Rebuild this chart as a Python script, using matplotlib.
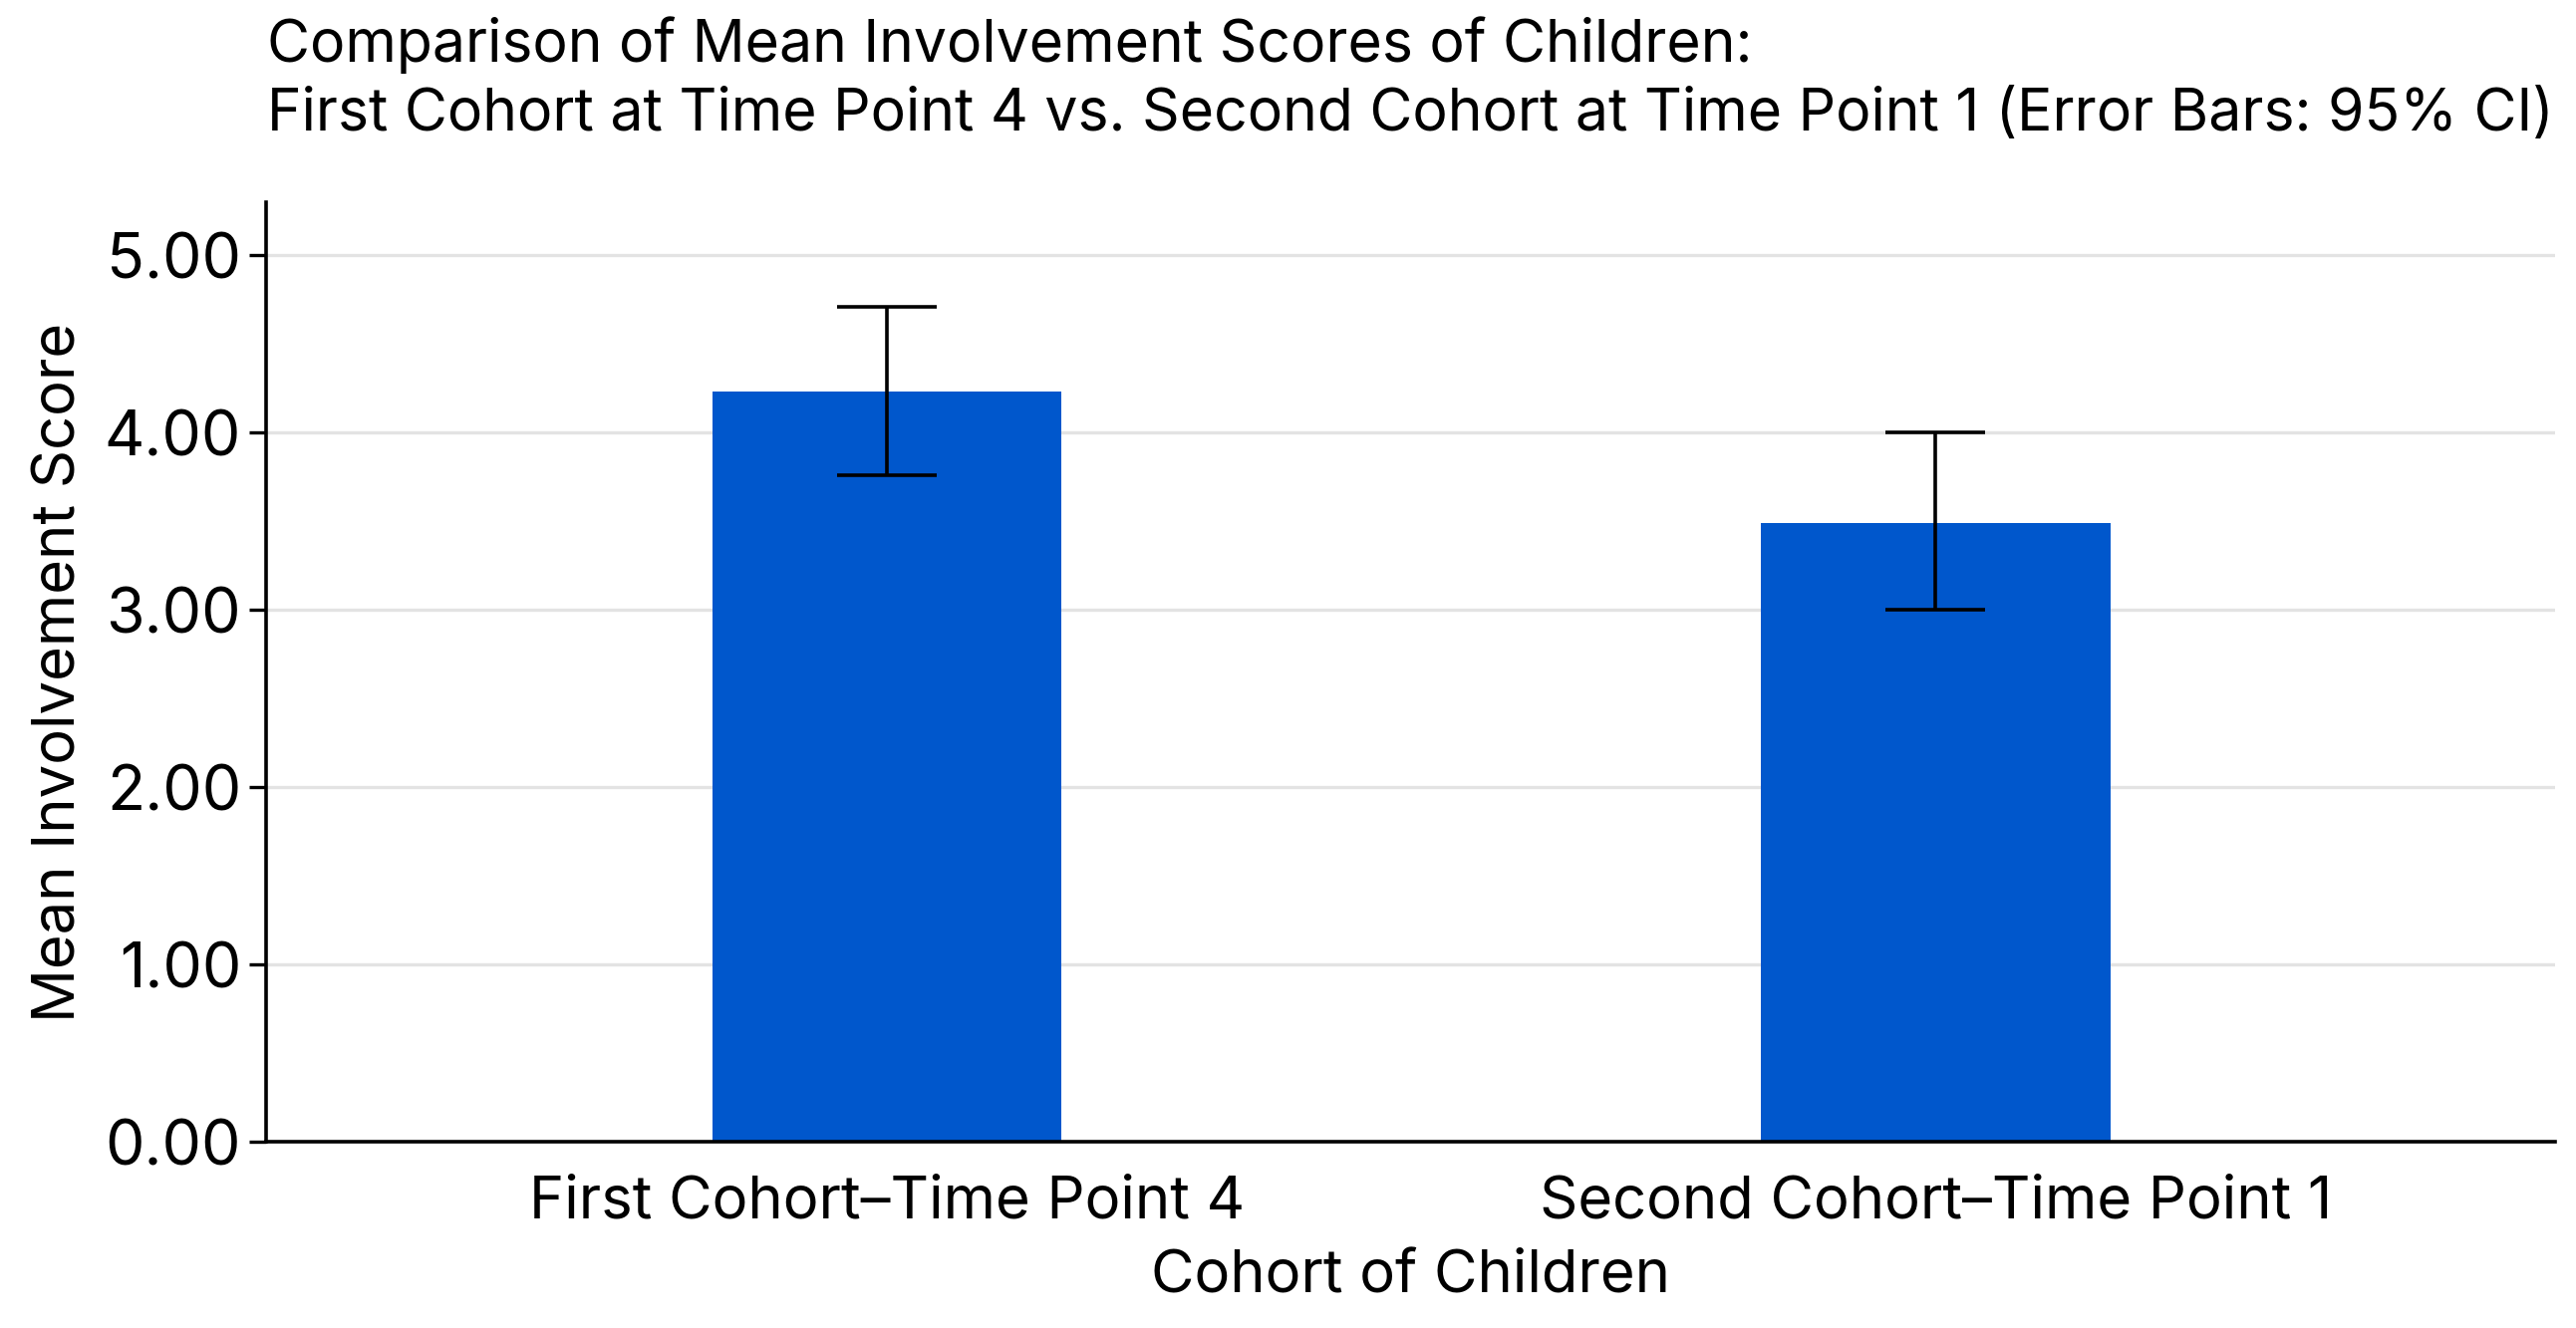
import numpy as np
import matplotlib
matplotlib.use("Agg")
import matplotlib.pyplot as plt

plt.rcParams['font.family'] = ['Inter', 'DejaVu Sans']

cohorts = ["First Cohort\u2013Time Point 4", "Second Cohort\u2013Time Point 1"]
means = [4.23, 3.49]
ci_low = [3.76, 3.00]
ci_high = [4.71, 4.00]
yticks = [0, 1, 2, 3, 4, 5]

fig = plt.figure(figsize=(12.925, 6.665), dpi=200)
ax = fig.add_axes([0.1033, 0.140, 0.8887, 0.708])

x = np.arange(len(cohorts))
err = [np.array(means) - np.array(ci_low), np.array(ci_high) - np.array(means)]
ax.bar(x, means, width=0.333, color="#0057CC", zorder=2)
ax.errorbar(x, means, yerr=err, fmt="none", ecolor="black", elinewidth=1.3,
            capsize=18, capthick=1.3, zorder=3)

ax.set_xlim(-0.592, 1.591)
ax.set_ylim(0, 5.3)
ax.set_yticks(yticks)
ax.set_yticklabels([f"{v:.2f}" for v in yticks])
ax.set_xticks(x)
ax.set_xticklabels(cohorts)
ax.tick_params(axis="y", length=6, width=1.2, labelsize=22.5, pad=3)
ax.tick_params(axis="x", length=0, labelsize=21.5, pad=12)
ax.yaxis.grid(True, color="#e3e3e3", linewidth=1.2, zorder=0)
ax.set_axisbelow(True)
for s in ["top", "right"]:
    ax.spines[s].set_visible(False)
for s in ["left", "bottom"]:
    ax.spines[s].set_linewidth(1.3)

ax.set_xlabel("Cohort of Children", fontsize=21.5, labelpad=7)
ax.set_ylabel("Mean Involvement Score", fontsize=21.5, labelpad=6)

fig.text(0.1037, 0.988, "Comparison of Mean Involvement Scores of Children:\n"
         "First Cohort at Time Point 4 vs. Second Cohort at Time Point 1 (Error Bars: 95% CI)",
         ha="left", va="top", fontsize=21.2, linespacing=1.33)

fig.savefig("out.png", dpi=200)
